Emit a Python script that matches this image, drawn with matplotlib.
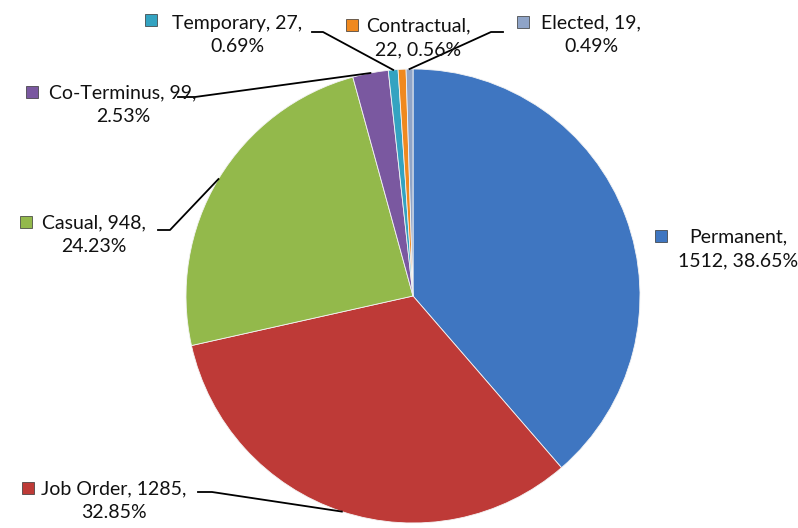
import numpy as np
import matplotlib.pyplot as plt

categories = ['Permanent', 'Job Order', 'Casual', 'Co-Terminus',
              'Temporary', 'Contractual', 'Elected']
counts = [1512, 1285, 948, 99, 27, 22, 19]
percents = ['38.65%', '32.85%', '24.23%', '2.53%', '0.69%', '0.56%', '0.49%']
colors = ['#3F76C1', '#BE3A37', '#93B94B', '#7A58A0',
          '#33A3C1', '#F0891F', '#8FA4C8']

# label texts (two lines each, as in the source)
label_texts = [
    'Permanent,\n1512, 38.65%',
    'Job Order, 1285,\n32.85%',
    'Casual, 948,\n24.23%',
    'Co-Terminus, 99,\n2.53%',
    'Temporary, 27,\n0.69%',
    'Contractual,\n22, 0.56%',
    'Elected, 19,\n0.49%',
]

W, H = 798, 528
# layout in pixel coords (y measured from top): text centre, marker, leader start/elbow
text_pos = [(738, 249), (114, 501), (94, 235), (123, 105), (237, 35), (418, 38), (591, 35)]
marker_pos = [(661, 236), (28, 488), (26, 222), (32, 92), (151, 20), (352, 25), (523, 22)]
leader = [None, (198, 492, 212), (158, 230, 170), (178, 97, 195),
          (312, 32, 323), None, (503, 32, 491)]

plt.rcParams['font.family'] = ['Lato', 'DejaVu Sans']

fig = plt.figure(figsize=(W / 100, H / 100), dpi=100)
ax = fig.add_axes([0, 0, 1, 1])

cx, cy, r = 413, H - 296, 227
wedges, _ = ax.pie(counts, colors=colors, startangle=90, counterclock=False,
                   center=(cx, cy), radius=r, frame=True,
                   wedgeprops=dict(edgecolor='#f4f4f4', linewidth=0.6))
ax.set_xlim(0, W)
ax.set_ylim(0, H)
ax.set_aspect('equal')
ax.axis('off')


def up(y):
    return H - y


for i, w in enumerate(wedges):
    ax.text(text_pos[i][0], up(text_pos[i][1]), label_texts[i], ha='center', va='center',
            fontsize=14, color='#111111', linespacing=1.45)
    ax.plot(marker_pos[i][0], up(marker_pos[i][1]), marker='s', markersize=8,
            color=colors[i], markeredgecolor='#333333', markeredgewidth=0.5)
    if leader[i] is not None:
        x0, y0, x1 = leader[i]
        mid = np.deg2rad((w.theta1 + w.theta2) / 2)
        px, py = cx + r * np.cos(mid), cy + r * np.sin(mid)
        ax.plot([x0, x1, px], [up(y0), up(y0), py], color='black', lw=1.3)

fig.savefig('out.png', dpi=100)
